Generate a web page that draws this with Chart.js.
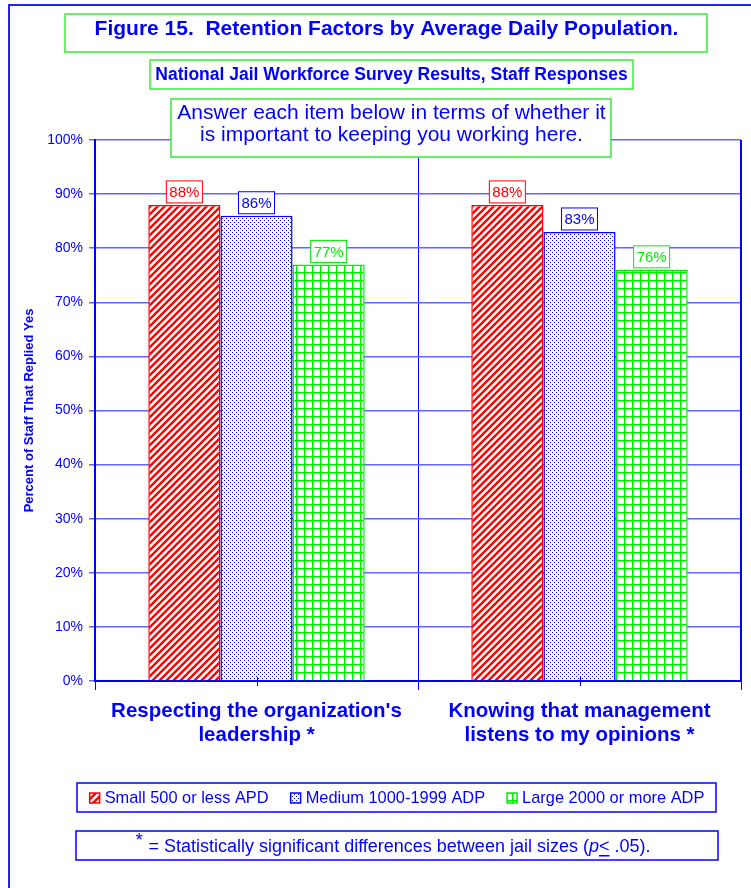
<!DOCTYPE html>
<html lang="en">
<head>
<meta charset="UTF-8">
<title>Figure 15. Retention Factors by Average Daily Population</title>
<script src="https://cdn.jsdelivr.net/npm/chart.js"></script>
<style>
  html, body { margin: 0; padding: 0; background: #fff; }
  #wrap { width: 751px; height: 888px; }
</style>
</head>
<body>
<div id="wrap"><canvas id="chart" width="751" height="888"></canvas></div>
<script>
// data
const categories = [["Respecting the organization's", "leadership *"], ["Knowing that management", "listens to my opinions *"]];
const seriesNames = ['Small 500 or less APD', 'Medium 1000-1999 ADP', 'Large 2000 or more ADP'];
const smallJails = [88, 88];
const mediumJails = [86, 83];
const largeJails = [77, 76];
const yTicks = [0, 10, 20, 30, 40, 50, 60, 70, 80, 90, 100];

const FONT = "'Liberation Sans', Arial, sans-serif";
const BLUE = '#0000ff';
const GRID = '#6464ff';
const RED = '#ff0000';
const GREEN = '#00ee00';
const BOXGREEN = '#33ee33';

// fill patterns like the excel ones
function hatchPattern(color) {
    const c = document.createElement('canvas');
    c.width = 7; c.height = 7;
    const g = c.getContext('2d');
    g.fillStyle = '#fff'; g.fillRect(0, 0, 7, 7);
    g.strokeStyle = color; g.lineWidth = 2.4;
    g.beginPath();
    g.moveTo(-2, 2); g.lineTo(2, -2);
    g.moveTo(-1, 8); g.lineTo(8, -1);
    g.moveTo(5, 9); g.lineTo(9, 5);
    g.stroke();
    return g.createPattern(c, 'repeat');
}
function dotPattern(color) {
    const c = document.createElement('canvas');
    c.width = 4; c.height = 4;
    const g = c.getContext('2d');
    g.fillStyle = '#fff'; g.fillRect(0, 0, 4, 4);
    g.fillStyle = color;
    g.fillRect(0, 0, 1, 1);
    g.fillRect(2, 2, 1, 1);
    return g.createPattern(c, 'repeat');
}
function gridPattern(color) {
    const c = document.createElement('canvas');
    c.width = 8; c.height = 8;
    const g = c.getContext('2d');
    g.fillStyle = '#fff'; g.fillRect(0, 0, 8, 8);
    g.fillStyle = color;
    g.fillRect(0, 0, 1.5, 8);
    g.fillRect(0, 0, 8, 1.5);
    return g.createPattern(c, 'repeat');
}

function box(ctx, x, y, w, h, color, lw) {
    ctx.save();
    ctx.fillStyle = '#fff';
    ctx.fillRect(x, y, w, h);
    ctx.strokeStyle = color;
    ctx.lineWidth = lw || 1.5;
    ctx.strokeRect(x, y, w, h);
    ctx.restore();
}

// value boxes above bars
const valueLabels = {
    id: 'valueLabels',
    afterDatasetsDraw(chart) {
        const ctx = chart.ctx;
        ctx.save();
        ctx.font = '15px ' + FONT;
        ctx.textAlign = 'center';
        ctx.textBaseline = 'middle';
        chart.data.datasets.forEach((ds, i) => {
            chart.getDatasetMeta(i).data.forEach((bar, j) => {
                const txt = ds.data[j] + '%';
                const w = ctx.measureText(txt).width + 6;
                const h = 22;
                box(ctx, bar.x - w / 2, bar.y - 2 - h, w, h, ds.borderColor, 1);
                ctx.fillStyle = ds.borderColor;
                ctx.fillText(txt, bar.x, bar.y - 2 - h / 2 + 1);
            });
        });
        ctx.restore();
    }
};

// titles, legend and footnote boxes
const frames = {
    id: 'frames',
    afterDraw(chart) {
        const ctx = chart.ctx;
        const a = chart.chartArea;
        ctx.save();

        // right border of plot + short ticks at category centres
        ctx.strokeStyle = BLUE;
        ctx.lineWidth = 2;
        ctx.beginPath();
        ctx.moveTo(a.right, a.top); ctx.lineTo(a.right, a.bottom);
        ctx.stroke();
        const xs = chart.scales.x;
        ctx.lineWidth = 1;
        ctx.beginPath();
        categories.forEach((c, i) => {
            const px = Math.round(xs.getPixelForValue(i)) + 0.5;
            ctx.moveTo(px, a.bottom - 4); ctx.lineTo(px, a.bottom + 5);
        });
        ctx.stroke();

        // outer frame
        ctx.strokeStyle = '#2020ff';
        ctx.lineWidth = 2;
        ctx.strokeRect(9, 5, 800, 950);

        ctx.textAlign = 'center';
        ctx.textBaseline = 'middle';
        ctx.fillStyle = BLUE;

        box(ctx, 65, 14, 642, 38, BOXGREEN);
        ctx.font = 'bold 21px ' + FONT;
        ctx.fillText('Figure 15.  Retention Factors by Average Daily Population.', 386.5, 29);

        box(ctx, 150, 60, 483, 29, BOXGREEN);
        ctx.font = 'bold 17.5px ' + FONT;
        ctx.fillStyle = BLUE;
        ctx.fillText('National Jail Workforce Survey Results, Staff Responses', 391.5, 75);

        box(ctx, 171, 99, 440, 58, BOXGREEN);
        ctx.font = '21px ' + FONT;
        ctx.fillStyle = BLUE;
        ctx.fillText('Answer each item below in terms of whether it', 391.5, 113);
        ctx.fillText('is important to keeping you working here.', 391.5, 135);

        // legend
        box(ctx, 77, 783, 639, 29, BLUE);
        ctx.font = '16.4px ' + FONT;
        ctx.textAlign = 'left';
        const ds = chart.data.datasets;
        const gap = 22;
        let total = 0;
        const widths = ds.map(d => ctx.measureText(d.label).width);
        widths.forEach(w => { total += 10 + 5 + w; });
        total += gap * (ds.length - 1);
        let lx = 397 - total / 2;
        ds.forEach((d, i) => {
            ctx.fillStyle = d.backgroundColor;
            ctx.fillRect(lx, 793, 10, 10);
            ctx.strokeStyle = d.borderColor;
            ctx.lineWidth = 1.5;
            ctx.strokeRect(lx, 793, 10, 10);
            ctx.fillStyle = BLUE;
            ctx.fillText(d.label, lx + 15, 798);
            lx += 15 + widths[i] + gap;
        });

        // footnote
        box(ctx, 76, 831, 642, 29, BLUE);
        const parts = [
            ['= Statistically significant differences between jail sizes (', '18px '],
            ['p', 'italic 18px '],
            ['<', '18px '],
            [' .05).', '18px ']
        ];
        ctx.font = '18px ' + FONT;
        const starW = ctx.measureText('*').width + 6;
        let fw = starW;
        parts.forEach(p => { ctx.font = p[1] + FONT; fw += ctx.measureText(p[0]).width; });
        let fx = 393 - fw / 2;
        ctx.fillStyle = BLUE;
        ctx.font = '19px ' + FONT;
        ctx.fillText('*', fx, 841);
        fx += starW;
        parts.forEach((p, i) => {
            ctx.font = p[1] + FONT;
            const w = ctx.measureText(p[0]).width;
            ctx.fillText(p[0], fx, 847);
            if (i === 2) {
                ctx.fillRect(fx, 855, w, 1.5);
            }
            fx += w;
        });

        ctx.restore();
    }
};

Chart.defaults.font.family = FONT;
Chart.defaults.color = BLUE;

new Chart(document.getElementById('chart'), {
    type: 'bar',
    data: {
        labels: categories,
        datasets: [
            { label: seriesNames[0], data: smallJails, backgroundColor: hatchPattern(RED), borderColor: RED },
            { label: seriesNames[1], data: mediumJails, backgroundColor: dotPattern(BLUE), borderColor: BLUE },
            { label: seriesNames[2], data: largeJails, backgroundColor: gridPattern(GREEN), borderColor: GREEN }
        ]
    },
    options: {
        responsive: false,
        animation: false,
        layout: { padding: { top: 140, right: 10, left: 0, bottom: 0 } },
        datasets: {
            bar: { categoryPercentage: 0.67, barPercentage: 1.0, borderWidth: 1.5 }
        },
        plugins: {
            legend: { display: false },
            tooltip: { enabled: false }
        },
        scales: {
            x: {
                afterFit: s => { s.height = 207; },
                grid: { color: BLUE, lineWidth: 1, tickLength: 9, offset: true },
                border: { color: BLUE, width: 2 },
                ticks: { color: BLUE, maxRotation: 0, padding: 10, font: { size: 20.5, weight: 'bold', lineHeight: 1.15 } }
            },
            y: {
                min: 0,
                max: 100,
                afterFit: s => { s.width = 95; },
                afterBuildTicks: s => { s.ticks = yTicks.map(v => ({ value: v })); },
                grid: { color: GRID, lineWidth: 1.5, tickLength: 6 },
                border: { color: BLUE, width: 2 },
                ticks: { color: BLUE, padding: 6, font: { size: 14 }, callback: v => v + '%' },
                title: {
                    display: true,
                    text: 'Percent of Staff That Replied Yes',
                    color: BLUE,
                    font: { size: 13, weight: 'bold' },
                    padding: { top: 22, bottom: 0 }
                }
            }
        }
    },
    plugins: [valueLabels, frames]
});
</script>
</body>
</html>
